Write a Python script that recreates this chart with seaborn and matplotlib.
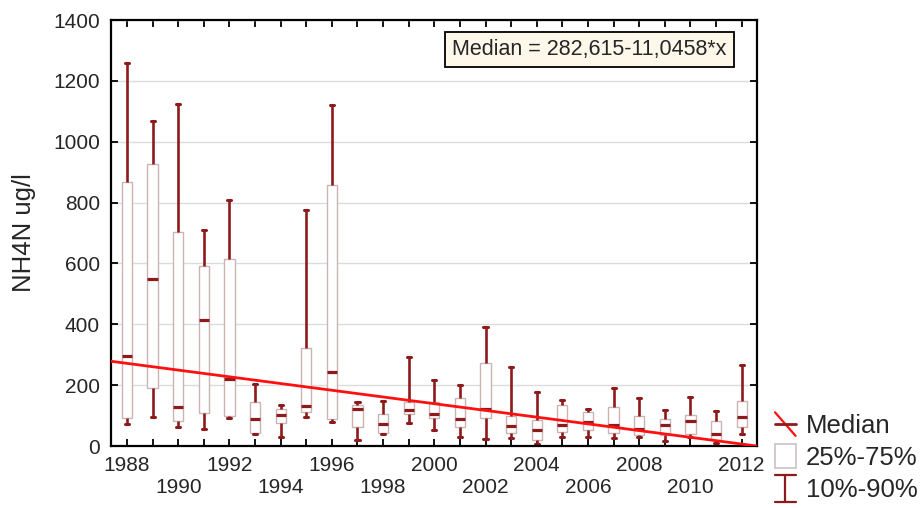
import numpy as np
import pandas as pd
import matplotlib
matplotlib.use("Agg")
import matplotlib.pyplot as plt
import seaborn as sns
from matplotlib.legend_handler import HandlerBase
from matplotlib.lines import Line2D
from matplotlib.patches import Rectangle

# Yearly NH4-N distribution summary (ug/l)
years = list(range(1988, 2013))
p10 = [71, 94, 64, 57, 91, 38, 31, 94, 79, 20, 39, 74, 53, 28, 22, 26, 7, 28, 31, 25, 31, 18, 31, 9, 39]
q25 = [91, 191, 82, 107, 99, 44, 77, 112, 88, 61, 42, 106, 91, 61, 92, 43, 20, 46, 53, 44, 35, 36, 38, 20, 64]
med = [297, 549, 128, 414, 219, 90, 102, 133, 244, 121, 73, 118, 104, 88, 123, 66, 54, 69, 80, 70, 57, 68, 82, 39, 95]
q75 = [869, 927, 704, 592, 616, 145, 122, 323, 857, 134, 105, 143, 146, 159, 272, 99, 85, 136, 113, 129, 99, 89, 101, 82, 147]
p90 = [1258, 1069, 1125, 710, 808, 203, 135, 776, 1120, 143, 149, 293, 217, 200, 390, 261, 177, 151, 123, 192, 157, 118, 162, 116, 265]

# Linear trend of the medians, x = year index (1988 -> 1)
fit_intercept = 282.615
fit_slope = -11.0458
fit_label = "Median = 282,615-11,0458*x"

DARK = "#8E1B1B"
PALE = "#CDB3B3"
TREND = "#FF1010"

# Five values per year: with whis=(0, 100) the box shows q25..q75 and the
# whiskers reach the 10th and 90th percentiles.
rows = []
for i, y in enumerate(years):
    for v in (p10[i], q25[i], med[i], q75[i], p90[i]):
        rows.append({"year": y, "value": v})
df = pd.DataFrame(rows)

sns.set_theme(style="ticks")
plt.rcParams["font.family"] = ["Liberation Sans", "DejaVu Sans"]

fig = plt.figure(figsize=(9.23, 5.08), dpi=100)
ax = fig.add_axes([111 / 923, 62 / 508, 646 / 923, 426 / 508])

sns.boxplot(
    data=df, x="year", y="value", native_scale=True, whis=(0, 100),
    width=0.4, color="white", linecolor=DARK, linewidth=1.6, ax=ax,
    boxprops={"edgecolor": PALE, "facecolor": "white", "linewidth": 1.0},
    whiskerprops={"color": DARK, "linewidth": 1.9},
    capprops={"color": DARK, "linewidth": 2.2},
    medianprops={"color": DARK, "linewidth": 2.3},
    capwidths=0.16,
)
for p in ax.patches:
    p.set_edgecolor(PALE)
    p.set_facecolor("white")
    p.set_linewidth(1.0)

ax.set_xlim(1987.375, 2012.6)
ax.set_ylim(0, 1400)

xs = np.array(ax.get_xlim())
trend = pd.DataFrame({"x": xs, "y": fit_intercept + fit_slope * (xs - (years[0] - 1))})
sns.lineplot(data=trend, x="x", y="y", color=TREND, linewidth=2.0, ax=ax, zorder=5)

ax.set_yticks(np.arange(0, 1401, 200))
ax.yaxis.grid(True, color="#DCDCDC", linewidth=1.0)
ax.xaxis.grid(False)
ax.set_axisbelow(True)

labels = []
for y in years:
    k = (y - years[0]) % 4
    if k == 0:
        labels.append(str(y))
    elif k == 2:
        labels.append("\n" + str(y))
    else:
        labels.append("")
ax.set_xticks(years)
ax.set_xticklabels(labels)
ax.tick_params(axis="both", direction="in", top=True, right=True,
               length=5, width=1.3, color="black", labelsize=15)
ax.tick_params(axis="x", pad=7)
ax.tick_params(axis="y", pad=8)
for s in ax.spines.values():
    s.set_visible(True)
    s.set_linewidth(1.6)
    s.set_color("black")

ax.set_xlabel("")
ax.set_ylabel("NH4N ug/l", fontsize=18.5, labelpad=12)

ax.text(0.741, 0.93, fit_label, transform=ax.transAxes, ha="center", va="center",
        fontsize=15.5, zorder=10,
        bbox=dict(boxstyle="square,pad=0.33", facecolor="#FDF8EA",
                  edgecolor="black", linewidth=1.3))


class MedianHandler(HandlerBase):
    def create_artists(self, legend, orig_handle, xd, yd, w, h, fontsize, trans):
        x0, y0 = -xd, -yd
        diag = Line2D([x0, x0 + w], [y0 + h * 1.1, y0 - h * 0.1], color=TREND,
                      lw=1.6, transform=trans)
        bar = Line2D([x0, x0 + w], [y0 + h * 0.5, y0 + h * 0.5],
                     color=DARK, lw=2.0, transform=trans)
        return [diag, bar]


class BoxHandler(HandlerBase):
    def create_artists(self, legend, orig_handle, xd, yd, w, h, fontsize, trans):
        x0, y0 = -xd, -yd
        r = Rectangle((x0, y0 - 0.1 * h), w, 1.2 * h, facecolor="white",
                      edgecolor="#C9C2C2", lw=1.2, transform=trans)
        return [r]


class WhiskerHandler(HandlerBase):
    def create_artists(self, legend, orig_handle, xd, yd, w, h, fontsize, trans):
        x0, y0 = -xd, -yd
        top, bot = y0 + 1.2 * h, y0 - 0.2 * h
        v = Line2D([x0 + w / 2, x0 + w / 2], [bot, top], color=DARK, lw=1.6, transform=trans)
        c1 = Line2D([x0, x0 + w], [top, top], color=DARK, lw=1.6, transform=trans)
        c2 = Line2D([x0, x0 + w], [bot, bot], color=DARK, lw=1.6, transform=trans)
        return [v, c1, c2]


h_med, h_box, h_whi = object(), object(), object()
fig.legend([h_med, h_box, h_whi], ["Median", "25%-75%", "10%-90%"],
           handler_map={h_med: MedianHandler(), h_box: BoxHandler(), h_whi: WhiskerHandler()},
           loc="upper left", bbox_to_anchor=(775 / 923, 1 - 414 / 508),
           frameon=False, fontsize=18.5, handlelength=0.8, handleheight=0.8,
           handletextpad=0.4, labelspacing=0.32, borderpad=0, borderaxespad=0)

fig.savefig("out.png", dpi=100)
